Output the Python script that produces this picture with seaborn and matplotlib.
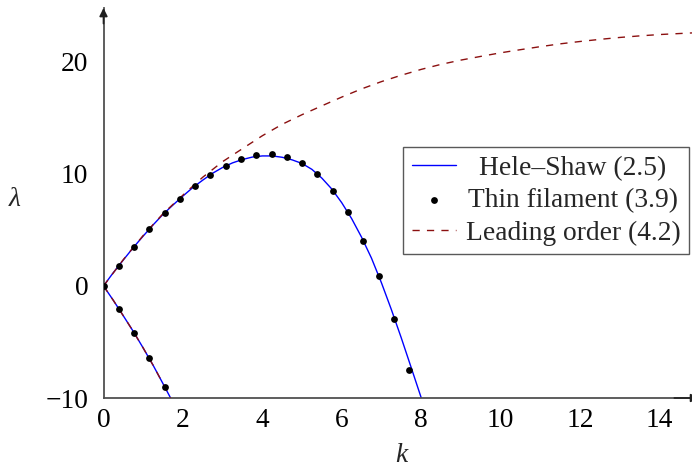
import matplotlib
matplotlib.use("Agg")
import matplotlib.pyplot as plt
import seaborn as sns
import pandas as pd

# ---- data ----
# Hele-Shaw (2.5), upper branch
hs_up_k = [0, 0.25, 0.5, 0.75, 1.0, 1.25, 1.5, 1.75, 2.0, 2.25, 2.5, 2.75, 3.0, 3.25,
           3.5, 3.75, 4.0, 4.25, 4.5, 4.75, 5.0, 5.25, 5.5, 5.75, 6.0, 6.25, 6.5,
           6.75, 7.0, 7.25, 7.5, 7.75, 8.0, 8.005]
hs_up_l = [0, 1.2, 2.32, 3.42, 4.45, 5.45, 6.39, 7.22, 8.02, 8.78, 9.44, 10.06, 10.57,
           10.98, 11.28, 11.5, 11.6, 11.6, 11.48, 11.25, 10.93, 10.4, 9.62, 8.65, 7.43,
           6.01, 4.35, 2.48, 0.29, -2.1, -4.63, -7.28, -9.95, -10.0]
# Hele-Shaw (2.5), lower branch
hs_lo_k = [0, 0.25, 0.5, 0.75, 1.0, 1.25, 1.5, 1.69]
hs_lo_l = [0, -1.3, -2.67, -4.06, -5.54, -7.08, -8.73, -10.0]

# Thin filament (3.9) points
tf_k = [0, 0.385, 0.77, 1.155, 1.54, 1.925, 2.31, 2.695, 3.08, 3.465, 3.85, 4.235,
        4.62, 5.005, 5.39, 5.775, 6.16, 6.545, 6.93, 7.315, 7.70,
        0.385, 0.77, 1.155, 1.54]
tf_l = [0, 1.81, 3.51, 5.09, 6.54, 7.79, 8.96, 9.94, 10.74, 11.31, 11.67, 11.76,
        11.54, 10.96, 9.97, 8.51, 6.58, 4.04, 0.92, -2.92, -7.5,
        -2.03, -4.17, -6.46, -8.99]

# Leading order (4.2), upper branch
lo_up_k = [0, 0.5, 1.0, 1.5, 2.0, 2.5, 3.0, 3.5, 4.0, 4.5, 5.0, 5.5, 6.0, 6.5, 7.0,
           7.5, 8.0, 8.5, 9.0, 9.5, 10.0, 10.5, 11.0, 11.5, 12.0, 12.5, 13.0, 13.5,
           14.0, 14.5, 14.85]
lo_up_l = [0, 2.35, 4.5, 6.45, 8.1, 9.7, 11.09, 12.25, 13.4, 14.42, 15.28, 16.07,
           16.85, 17.58, 18.23, 18.8, 19.32, 19.77, 20.15, 20.48, 20.8, 21.08, 21.35,
           21.6, 21.81, 22.0, 22.17, 22.31, 22.43, 22.52, 22.58]
# Leading order (4.2), lower branch
lo_lo_k = [0, 0.25, 0.5, 0.75, 1.0, 1.25, 1.5, 1.69]
lo_lo_l = [0, -1.3, -2.67, -4.06, -5.54, -7.08, -8.73, -10.0]

x_ticks = [0, 2, 4, 6, 8, 10, 12, 14]
y_ticks = [-10, 0, 10, 20]

labels = ["Hele\u2013Shaw (2.5)", "Thin filament (3.9)", "Leading order (4.2)"]

# ---- style ----
sns.set_style("white")
plt.rcParams["font.family"] = ["Liberation Serif", "DejaVu Serif"]
plt.rcParams["axes.unicode_minus"] = True
FS = 19.8

W, H = 692, 471
fig = plt.figure(figsize=(W / 100, H / 100), dpi=100)
ax_left, ax_bottom_px, ax_top_px = 103.5, 398, 8
ax = fig.add_axes([ax_left / W, (H - ax_bottom_px) / H,
                   (W - ax_left) / W, (ax_bottom_px - ax_top_px) / H])

blue = "#0000ff"
dred = "#8b1010"

df_hs_up = pd.DataFrame({"k": hs_up_k, "l": hs_up_l})
df_hs_lo = pd.DataFrame({"k": hs_lo_k, "l": hs_lo_l})
df_lo_up = pd.DataFrame({"k": lo_up_k, "l": lo_up_l})
df_lo_lo = pd.DataFrame({"k": lo_lo_k, "l": lo_lo_l})
df_tf = pd.DataFrame({"k": tf_k, "l": tf_l})

sns.lineplot(data=df_hs_up, x="k", y="l", ax=ax, color=blue, lw=1.0, sort=False,
             estimator=None, label=labels[0], zorder=2)
sns.lineplot(data=df_hs_lo, x="k", y="l", ax=ax, color=blue, lw=1.0, sort=False,
             estimator=None, zorder=2)
sns.lineplot(data=df_lo_up, x="k", y="l", ax=ax, color=dred, lw=1.0, sort=False,
             estimator=None, label=labels[2], zorder=3, linestyle=(0, (5.2, 5.2)))
sns.lineplot(data=df_lo_lo, x="k", y="l", ax=ax, color=dred, lw=1.0, sort=False,
             estimator=None, zorder=3, linestyle=(0, (5.2, 5.2)))
sns.scatterplot(data=df_tf, x="k", y="l", ax=ax, color="black", s=24, linewidth=0,
                label=labels[1], zorder=4)

ax.set_xlim(0, (W - ax_left) / 39.7)
ax.set_ylim(-10, 24.8)
ax.set_xticks(x_ticks)
ax.set_yticks(y_ticks)
ax.set_xlabel("")
ax.set_ylabel("")

for s in ["top", "right"]:
    ax.spines[s].set_visible(False)
for s in ["left", "bottom"]:
    ax.spines[s].set_color("#505050")
    ax.spines[s].set_linewidth(1.3)
ax.tick_params(axis="both", direction="inout", length=8, width=0.8, color="#909090",
               labelsize=FS, labelcolor="black")
ax.tick_params(axis="x", pad=3)
ax.tick_params(axis="y", pad=7)

# arrow heads on axes
ax.annotate("", xy=(0, 1.0), xytext=(0, 0.96), xycoords="axes fraction",
            arrowprops=dict(arrowstyle="-|>", color="#202020", lw=1.2,
                            mutation_scale=12, shrinkA=0, shrinkB=0))
ax.annotate("", xy=(1.012, 0), xytext=(0.97, 0), xycoords="axes fraction",
            arrowprops=dict(arrowstyle="-|>", color="#202020", lw=1.2,
                            mutation_scale=12, shrinkA=0, shrinkB=0),
            annotation_clip=False)

# axis labels placed by pixel
fig.text(15 / W, 1 - 200 / H, "\u03bb", fontsize=FS, style="italic",
         ha="center", va="center")
fig.text(401 / W, 1 - 456 / H, "k", fontsize=FS, style="italic",
         ha="center", va="center")

# legend
h, l = ax.get_legend_handles_labels()
hd = dict(zip(l, h))
leg = ax.legend([hd[labels[0]], hd[labels[1]], hd[labels[2]]], labels,
                loc="upper right", bbox_to_anchor=(0.995, 0.644), borderaxespad=0,
                fontsize=FS, frameon=True, fancybox=False, handlelength=1.6,
                handletextpad=0.35, labelspacing=0.26, borderpad=0.32,
                markerscale=1.0)
leg.get_frame().set_edgecolor("#303030")
leg.get_frame().set_linewidth(1.0)

# centre the legend texts within their column (as in the reference)
fig.canvas.draw()
r = fig.canvas.get_renderer()
widths = [t.get_window_extent(r).width for t in leg.get_texts()]
mw = max(widths)
for t, w in zip(leg.get_texts(), widths):
    t.set_x((mw - w) / 2)

fig.savefig("out.png", dpi=100)
